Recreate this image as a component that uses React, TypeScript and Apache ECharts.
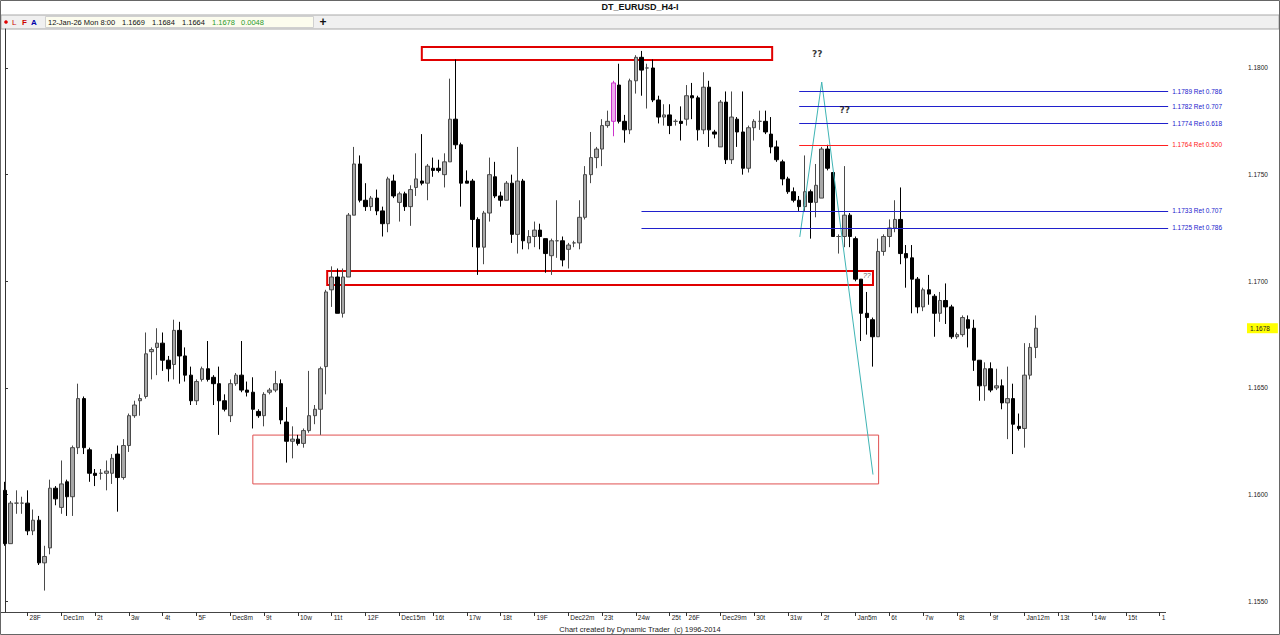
import React, { useEffect, useRef } from "react";
import * as echarts from "echarts";

// ---- time axis: trading days (label of first bar of the day, number of H4 bars) ----
const dayLabels = ["", "28F", "Dec1m", "2t", "3w", "4t", "5F", "Dec8m", "9t", "10w", "11t", "12F",
  "Dec15m", "16t", "17w", "18t", "19F", "Dec22m", "23t", "24w", "25t", "26F", "Dec29m", "30t", "31w",
  "2f", "Jan5m", "6t", "7w", "8t", "9f", "Jan12m", "13t", "14w", "15t", "1"];
const dayBars = [4, 6, 6, 6, 6, 6, 6, 6, 6, 6, 6, 6, 6, 6, 6, 6, 6, 6, 6, 6, 3, 6, 6, 6, 6,
  6, 6, 6, 6, 6, 6, 6, 6, 6, 6, 16];

// ---- EURUSD H4 bars ----
const opens = [
  1.1602, 1.1577, 1.1596, 1.1596, 1.1596, 1.1583, 1.1588, 1.1568, 1.1575, 1.1603,
  1.1594, 1.1606, 1.1599, 1.1622, 1.1645, 1.1621, 1.1610, 1.1610, 1.1610, 1.1610,
  1.1619, 1.1608, 1.1623, 1.1637, 1.1644, 1.1646, 1.1667, 1.1669, 1.1671, 1.1663,
  1.1661, 1.1677, 1.1665, 1.1656, 1.1644, 1.1654, 1.1659, 1.1655, 1.1652, 1.1644,
  1.1637, 1.1652, 1.1656, 1.1649, 1.1648, 1.1639, 1.1637, 1.1648, 1.1649, 1.1652,
  1.1634, 1.1625, 1.1626, 1.1624, 1.1630, 1.1637, 1.1640, 1.1660, 1.1696, 1.1702,
  1.1685, 1.1702, 1.1731, 1.1755, 1.1738, 1.1735, 1.1739, 1.1733, 1.1727, 1.1747,
  1.1737, 1.1741, 1.1735, 1.1744, 1.1747, 1.1746, 1.1753, 1.1753, 1.1750, 1.1756,
  1.1776, 1.1764, 1.1747, 1.1747, 1.1729, 1.1716, 1.1732, 1.1749, 1.1740, 1.1738,
  1.1746, 1.1722, 1.1747, 1.1718, 1.1721, 1.1724, 1.1720, 1.1712, 1.1719, 1.1719,
  1.1715, 1.1718, 1.1718, 1.1730, 1.1750, 1.1758, 1.1762, 1.1773, 1.1775, 1.1792,
  1.1775, 1.1771, 1.1794, 1.1805, 1.1800, 1.1800, 1.1785, 1.1777, 1.1778, 1.1775,
  1.1775, 1.1776, 1.1787, 1.1786, 1.1771, 1.1791, 1.1770, 1.1763, 1.1784, 1.1757,
  1.1776, 1.1770, 1.1753, 1.1772, 1.1775, 1.1775, 1.1769, 1.1763, 1.1756, 1.1748,
  1.1742, 1.1738, 1.1735, 1.1742, 1.1737, 1.1739, 1.1762, 1.1751, 1.1721, 1.1721,
  1.1731, 1.1720, 1.1701, 1.1685, 1.1682, 1.1674, 1.1714, 1.1721, 1.1725, 1.1729,
  1.1713, 1.1711, 1.1701, 1.1688, 1.1696, 1.1693, 1.1685, 1.1691, 1.1688, 1.1674,
  1.1675, 1.1682, 1.1678, 1.1663, 1.1651, 1.1659, 1.1650, 1.1651, 1.1643, 1.1645,
  1.1632, 1.1631, 1.1656, 1.1669];
const highs = [
  1.1606, 1.1597, 1.1602, 1.1599, 1.1602, 1.1593, 1.1590, 1.1576, 1.1607, 1.1604,
  1.1616, 1.1607, 1.1623, 1.1652, 1.1646, 1.1622, 1.1612, 1.1612, 1.1616, 1.1619,
  1.1623, 1.1626, 1.1638, 1.1644, 1.1647, 1.1676, 1.1669, 1.1678, 1.1676, 1.1665,
  1.1682, 1.1681, 1.1669, 1.1660, 1.1654, 1.1660, 1.1672, 1.1656, 1.1660, 1.1647,
  1.1654, 1.1657, 1.1672, 1.1653, 1.1655, 1.1640, 1.1648, 1.1650, 1.1658, 1.1654,
  1.1641, 1.1632, 1.1628, 1.1631, 1.1658, 1.1642, 1.1660, 1.1696, 1.1707, 1.1706,
  1.1706, 1.1732, 1.1763, 1.1759, 1.1746, 1.1740, 1.1743, 1.1735, 1.1749, 1.1750,
  1.1742, 1.1742, 1.1745, 1.1760, 1.1769, 1.1755, 1.1758, 1.1757, 1.1760, 1.1795,
  1.1804, 1.1765, 1.1752, 1.1748, 1.1730, 1.1733, 1.1758, 1.1756, 1.1742, 1.1747,
  1.1750, 1.1763, 1.1748, 1.1724, 1.1728, 1.1727, 1.1720, 1.1720, 1.1738, 1.1721,
  1.1718, 1.1719, 1.1738, 1.1754, 1.1770, 1.1763, 1.1776, 1.1780, 1.1794, 1.1802,
  1.1778, 1.1795, 1.1806, 1.1808, 1.1802, 1.1804, 1.1787, 1.1783, 1.1783, 1.1776,
  1.1782, 1.1792, 1.1793, 1.1787, 1.1798, 1.1794, 1.1771, 1.1785, 1.1789, 1.1789,
  1.1777, 1.1789, 1.1773, 1.1776, 1.1780, 1.1780, 1.1777, 1.1766, 1.1757, 1.1749,
  1.1744, 1.1740, 1.1759, 1.1743, 1.1755, 1.1763, 1.1764, 1.1751, 1.1722, 1.1754,
  1.1732, 1.1721, 1.1701, 1.1695, 1.1683, 1.1720, 1.1722, 1.1729, 1.1738, 1.1744,
  1.1717, 1.1717, 1.1702, 1.1697, 1.1703, 1.1694, 1.1695, 1.1699, 1.1689, 1.1676,
  1.1684, 1.1684, 1.1682, 1.1663, 1.1662, 1.1662, 1.1659, 1.1654, 1.1660, 1.1652,
  1.1638, 1.1671, 1.1671, 1.1684];
const lows = [
  1.1576, 1.1577, 1.1591, 1.1591, 1.1581, 1.1581, 1.1567, 1.1555, 1.1572, 1.1595,
  1.1591, 1.1590, 1.1590, 1.1619, 1.1619, 1.1606, 1.1604, 1.1607, 1.1602, 1.1605,
  1.1592, 1.1607, 1.1620, 1.1636, 1.1637, 1.1645, 1.1654, 1.1656, 1.1658, 1.1653,
  1.1654, 1.1652, 1.1653, 1.1642, 1.1642, 1.1653, 1.1653, 1.1642, 1.1628, 1.1639,
  1.1634, 1.1651, 1.1648, 1.1646, 1.1631, 1.1636, 1.1632, 1.1647, 1.1648, 1.1633,
  1.1615, 1.1617, 1.1623, 1.1622, 1.1629, 1.1633, 1.1628, 1.1647, 1.1688, 1.1685,
  1.1683, 1.1702, 1.1731, 1.1737, 1.1733, 1.1733, 1.1731, 1.1721, 1.1723, 1.1739,
  1.1728, 1.1733, 1.1726, 1.1740, 1.1745, 1.1738, 1.1749, 1.1751, 1.1744, 1.1756,
  1.1762, 1.1735, 1.1746, 1.1716, 1.1703, 1.1708, 1.1728, 1.1739, 1.1735, 1.1738,
  1.1718, 1.1713, 1.1715, 1.1715, 1.1716, 1.1715, 1.1704, 1.1703, 1.1711, 1.1707,
  1.1706, 1.1716, 1.1715, 1.1729, 1.1746, 1.1753, 1.1754, 1.1772, 1.1768, 1.1774,
  1.1765, 1.1769, 1.1788, 1.1787, 1.1781, 1.1784, 1.1774, 1.1773, 1.1769, 1.1773,
  1.1766, 1.1773, 1.1776, 1.1766, 1.1769, 1.1763, 1.1767, 1.1763, 1.1755, 1.1755,
  1.1763, 1.1750, 1.1751, 1.1766, 1.1771, 1.1769, 1.1760, 1.1756, 1.1745, 1.1741,
  1.1737, 1.1733, 1.1733, 1.1720, 1.1730, 1.1739, 1.1752, 1.1721, 1.1713, 1.1716,
  1.1716, 1.1700, 1.1672, 1.1675, 1.1660, 1.1674, 1.1712, 1.1716, 1.1723, 1.1708,
  1.1697, 1.1685, 1.1685, 1.1686, 1.1689, 1.1674, 1.1681, 1.1680, 1.1673, 1.1673,
  1.1674, 1.1669, 1.1658, 1.1644, 1.1644, 1.1648, 1.1649, 1.1640, 1.1626, 1.1619,
  1.1630, 1.1622, 1.1654, 1.1664];
const closes = [
  1.1577, 1.1596, 1.1596, 1.1596, 1.1583, 1.1588, 1.1568, 1.1571, 1.1603, 1.1598,
  1.1605, 1.1599, 1.1622, 1.1645, 1.1622, 1.1610, 1.1609, 1.1610, 1.1611, 1.1617,
  1.1608, 1.1623, 1.1637, 1.1642, 1.1645, 1.1666, 1.1668, 1.1671, 1.1663, 1.1659,
  1.1677, 1.1665, 1.1656, 1.1644, 1.1653, 1.1659, 1.1654, 1.1652, 1.1644, 1.1640,
  1.1652, 1.1656, 1.1649, 1.1648, 1.1640, 1.1637, 1.1647, 1.1649, 1.1652, 1.1635,
  1.1625, 1.1626, 1.1624, 1.1630, 1.1637, 1.1640, 1.1659, 1.1695, 1.1702, 1.1685,
  1.1702, 1.1731, 1.1755, 1.1738, 1.1735, 1.1739, 1.1733, 1.1727, 1.1748, 1.1740,
  1.1741, 1.1735, 1.1743, 1.1748, 1.1746, 1.1754, 1.1752, 1.1752, 1.1756, 1.1776,
  1.1764, 1.1746, 1.1746, 1.1729, 1.1716, 1.1732, 1.1750, 1.1740, 1.1738, 1.1746,
  1.1722, 1.1747, 1.1719, 1.1721, 1.1724, 1.1721, 1.1713, 1.1719, 1.1719, 1.1710,
  1.1717, 1.1718, 1.1730, 1.1750, 1.1758, 1.1762, 1.1773, 1.1775, 1.1793, 1.1775,
  1.1771, 1.1794, 1.1805, 1.1799, 1.1800, 1.1785, 1.1777, 1.1778, 1.1773, 1.1775,
  1.1774, 1.1787, 1.1786, 1.1771, 1.1791, 1.1771, 1.1769, 1.1784, 1.1757, 1.1777,
  1.1770, 1.1753, 1.1772, 1.1775, 1.1775, 1.1770, 1.1763, 1.1757, 1.1748, 1.1742,
  1.1738, 1.1735, 1.1742, 1.1737, 1.1745, 1.1762, 1.1753, 1.1721, 1.1721, 1.1731,
  1.1721, 1.1701, 1.1685, 1.1683, 1.1674, 1.1714, 1.1721, 1.1725, 1.1729, 1.1713,
  1.1711, 1.1701, 1.1688, 1.1696, 1.1694, 1.1685, 1.1691, 1.1688, 1.1674, 1.1675,
  1.1683, 1.1678, 1.1663, 1.1651, 1.1659, 1.1649, 1.1651, 1.1643, 1.1645, 1.1633,
  1.1631, 1.1656, 1.1669, 1.1678];
const highlightedBar = 108; // bar drawn in magenta

// ---- price axis ----
const priceTicks = [1.155, 1.16, 1.165, 1.17, 1.175, 1.18];
const priceMin = 1.154496;
const priceMax = 1.181828;

// ---- header values ----
const headerDate = "12-Jan-26 Mon 8:00";
const headerChange = "0.0048";

// ---- annotations (x in bar index, y in price) ----
const fibLevels = [1.1789, 1.1782, 1.1774, 1.1764, 1.1733, 1.1725];
const fibRatios = ["0.786", "0.707", "0.618", "0.500", "0.707", "0.786"];
const fibStart = [141.0, 141.0, 141.0, 141.0, 113.0, 113.0];
const fibEnd = 206.5;
const boxLeft = [74.0, 57.2, 44.0];
const boxRight = [136.2, 154.1, 155.1];
const boxTop = [1.18098, 1.17048, 1.16279];
const boxBottom = [1.18038, 1.16983, 1.1605];
const zigzagX = [141.1, 145.0, 154.1];
const zigzagY = [1.17208, 1.17934, 1.16094];
const questionX = [144.2, 149.1, 153.0];
const questionY = [1.18066, 1.17803, 1.17025];

const FONT = "Liberation Sans";

function buildOption() {
  const categories: string[] = [];
  const labelAt: Record<number, string> = {};
  dayLabels.forEach((lab, d) => {
    for (let b = 0; b < dayBars[d]; b++) {
      if (b === 0 && lab) labelAt[categories.length] = lab;
      categories.push(`d${d}b${b}`);
    }
  });
  const total = categories.length;
  const isDayStart = (i: number) => labelAt[i] !== undefined;

  const candleData: any[] = categories.map((_, i) => {
    if (i >= opens.length) return "-";
    const v = [opens[i], closes[i], lows[i], highs[i]];
    if (i === highlightedBar) {
      return {
        value: v,
        itemStyle: { color: "#eeaaee", color0: "#eeaaee", borderColor: "#cc33cc", borderColor0: "#cc33cc" },
      };
    }
    return v;
  });
  const lastClose = closes[closes.length - 1];

  const thickBox = { color: "rgba(0,0,0,0)", borderColor: "#e00000", borderWidth: 2 };
  const thinBox = { color: "rgba(0,0,0,0)", borderColor: "#e05050", borderWidth: 1 };
  const boxes = boxLeft.map((x1, i) => [
    { coord: [x1, boxTop[i]], itemStyle: i < 2 ? thickBox : thinBox },
    { coord: [boxRight[i], boxBottom[i]] },
  ]);

  const fibLines: any[] = fibLevels.map((lv, i) => {
    const col = fibRatios[i] === "0.500" ? "#ff2020" : "#2020cc";
    return [
      {
        coord: [fibStart[i], lv],
        lineStyle: { color: col, width: 1, type: "solid" },
        label: {
          show: true,
          position: "end",
          distance: 4,
          formatter: `${lv.toFixed(4)} Ret ${fibRatios[i]}`,
          color: col,
          fontSize: 6.5,
          fontFamily: FONT,
        },
      },
      { coord: [fibEnd, lv] },
    ];
  });
  // current price tag on the price scale
  fibLines.push([
    {
      coord: [-0.5, lastClose],
      lineStyle: { color: "rgba(0,0,0,0)", width: 0 },
      label: {
        show: true,
        position: "end",
        distance: 0,
        formatter: lastClose.toFixed(4),
        backgroundColor: "#ffff00",
        color: "#222",
        fontSize: 6.5,
        fontFamily: FONT,
        padding: [2, 8, 1, 3],
      },
    },
    { coord: [total - 0.5, lastClose] },
  ]);

  const graphic: any[] = [
    { type: "rect", silent: true, shape: { x: 1, y: 15, width: 1278, height: 14 }, style: { fill: "#f0f0f0", stroke: "#a8a8a8", lineWidth: 1 } },
    { type: "rect", silent: true, shape: { x: 45.5, y: 16.5, width: 268, height: 11 }, style: { fill: "#fcfcee", stroke: "#d0d0d0", lineWidth: 1 } },
    { type: "text", x: 640, y: 7, style: { text: "DT_EURUSD_H4-I", font: `bold 9px "${FONT}"`, fill: "#111", align: "center", verticalAlign: "middle" } },
    { type: "circle", shape: { cx: 6, cy: 22, r: 1.8 }, style: { fill: "#e00000" } },
    { type: "text", x: 12, y: 22, style: { text: "L", font: `8px "${FONT}"`, fill: "#cc0000", verticalAlign: "middle" } },
    { type: "text", x: 22, y: 22, style: { text: "F", font: `bold 8px "${FONT}"`, fill: "#cc0000", verticalAlign: "middle" } },
    { type: "text", x: 31, y: 22, style: { text: "A", font: `bold 8px "${FONT}"`, fill: "#0000aa", verticalAlign: "middle" } },
    { type: "text", x: 48, y: 22, style: { text: headerDate, font: `7.5px "${FONT}"`, fill: "#111", verticalAlign: "middle" } },
    { type: "text", x: 122, y: 22, style: { text: opens[opens.length - 1].toFixed(4), font: `7.5px "${FONT}"`, fill: "#111", verticalAlign: "middle" } },
    { type: "text", x: 152, y: 22, style: { text: highs[highs.length - 1].toFixed(4), font: `7.5px "${FONT}"`, fill: "#111", verticalAlign: "middle" } },
    { type: "text", x: 182, y: 22, style: { text: lows[lows.length - 1].toFixed(4), font: `7.5px "${FONT}"`, fill: "#111", verticalAlign: "middle" } },
    { type: "text", x: 212, y: 22, style: { text: lastClose.toFixed(4), font: `7.5px "${FONT}"`, fill: "#2a9a2a", verticalAlign: "middle" } },
    { type: "text", x: 241, y: 22, style: { text: headerChange, font: `7.5px "${FONT}"`, fill: "#2a9a2a", verticalAlign: "middle" } },
    { type: "text", x: 323, y: 21.5, style: { text: "+", font: `bold 12px "${FONT}"`, fill: "#111", align: "center", verticalAlign: "middle" } },
    { type: "line", silent: true, shape: { x1: 0, y1: 612.5, x2: 1166, y2: 612.5 }, style: { stroke: "#444", lineWidth: 1 } },
    { type: "text", x: 640, y: 629, style: { text: "Chart created by Dynamic Trader  (c) 1996-2014", font: `7.5px "${FONT}"`, fill: "#222", align: "center", verticalAlign: "middle" } },
    { type: "rect", silent: true, shape: { x: 0.5, y: 0.5, width: 1279, height: 634 }, style: { fill: "none", stroke: "#666", lineWidth: 1 } },
  ];

  return {
    animation: false,
    backgroundColor: "#ffffff",
    textStyle: { fontFamily: FONT },
    grid: { left: 2.18, right: 33, top: 29, bottom: 23, containLabel: false, outerBoundsMode: "none" },
    xAxis: [
      {
        type: "category",
        data: categories,
        boundaryGap: true,
        axisLine: { show: false },
        axisTick: { show: true, interval: (i: number) => isDayStart(i), alignWithLabel: true, length: 4, lineStyle: { color: "#333" } },
        axisLabel: {
          interval: (i: number) => isDayStart(i),
          formatter: (_v: string, i: number) => labelAt[i] ?? "",
          align: "left",
          padding: [0, 0, 0, 2],
          margin: 2,
          fontSize: 6.5,
          color: "#222",
          fontFamily: FONT,
        },
        splitLine: { show: false },
      },
      { type: "value", min: -0.5, max: total - 0.5, show: false },
    ],
    yAxis: {
      type: "value",
      position: "right",
      min: priceMin,
      max: priceMax,
      splitLine: { show: false },
      axisLine: { show: true, lineStyle: { color: "#333" } },
      axisTick: { show: true, customValues: priceTicks, length: 3, lineStyle: { color: "#333" } },
      axisLabel: { customValues: priceTicks, formatter: (v: number) => v.toFixed(4), fontSize: 6.5, margin: 1, color: "#222", fontFamily: FONT },
    },
    graphic,
    series: [
      {
        type: "candlestick",
        xAxisIndex: 0,
        yAxisIndex: 0,
        barWidth: 4,
        data: candleData,
        itemStyle: { color: "#a8a8a8", color0: "#000000", borderColor: "#4a4a4a", borderColor0: "#000000", borderWidth: 1 },
        z: 2,
      },
      {
        type: "line",
        xAxisIndex: 1,
        yAxisIndex: 0,
        data: zigzagX.map((x, i) => [x, zigzagY[i]]),
        symbol: "none",
        lineStyle: { color: "#3fb4b4", width: 1 },
        markArea: { silent: true, data: boxes },
        markLine: { silent: true, symbol: ["none", "none"], data: fibLines },
        z: 3,
      },
      {
        type: "scatter",
        xAxisIndex: 1,
        yAxisIndex: 0,
        symbolSize: 1,
        itemStyle: { color: "rgba(0,0,0,0)" },
        data: questionX.map((x, i) => ({
          value: [x, questionY[i]],
          label: i < 2
            ? { show: true, position: "inside", formatter: "??", fontWeight: "bold", fontSize: 9, color: "#000000", textBorderWidth: 0, fontFamily: "DejaVu Sans" }
            : { show: true, position: "inside", formatter: "??", fontStyle: "italic", fontSize: 7, color: "#333333", textBorderWidth: 0, fontFamily: FONT },
        })),
        z: 6,
      },
    ],
  };
}

export default function App() {
  const ref = useRef<HTMLDivElement>(null);
  useEffect(() => {
    document.body.style.margin = "0";
    const chart = echarts.init(ref.current!, null, { renderer: "svg" });
    chart.setOption(buildOption() as any);
    return () => chart.dispose();
  }, []);
  return <div ref={ref} style={{ position: "absolute", left: 0, top: 0, width: 1280, height: 635 }} />;
}
